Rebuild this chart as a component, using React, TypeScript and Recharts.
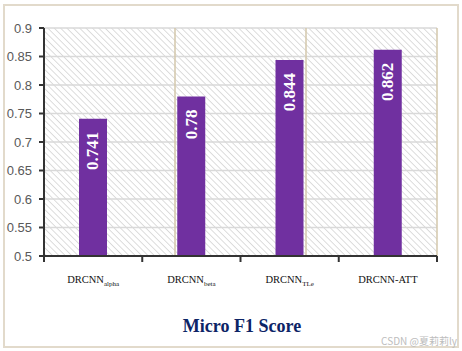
import { BarChart, Bar, XAxis, YAxis, CartesianGrid, ReferenceLine, LabelList } from 'recharts';

const models = ['DRCNN|alpha', 'DRCNN|beta', 'DRCNN|TLe', 'DRCNN-ATT'];
const microF1 = [0.741, 0.78, 0.844, 0.862];
const yTicks = [0.5, 0.55, 0.6, 0.65, 0.7, 0.75, 0.8, 0.85, 0.9];
const boundaries = [1, 2, 3, 4];

const data = models.map((m, i) => ({ model: m, score: microF1[i] }));

function ModelTick(props: any) {
  const { x, y, payload, index, width } = props;
  const half = payload?.offset || width / (models.length * 2);
  const [main, sub] = String(payload.value).split('|');
  const top = y - 8; // axis line position
  return (
    <g>
      {index === 0 && <line x1={x - half} x2={x - half} y1={top} y2={top + 6} stroke="#333" strokeWidth={2} />}
      <line x1={x + half} x2={x + half} y1={top} y2={top + 6} stroke="#333" strokeWidth={2} />
      <text x={x} y={y + 19} textAnchor="middle" fontFamily="'Liberation Serif', serif" fontSize={10.5} fill="#111">
        <tspan>{main}</tspan>
        {sub && <tspan dy={3} fontSize={7}>{sub}</tspan>}
      </text>
    </g>
  );
}

function ValueLabel({ x, y, width, value }: { x: number; y: number; width: number; value: number }) {
  const cx = x + width / 2;
  const ty = y + 13;
  return (
    <text
      x={cx} y={ty}
      transform={`rotate(-90 ${cx} ${ty})`}
      textAnchor="end"
      dominantBaseline="central"
      fill="#fff"
      fontFamily="'Liberation Serif', serif"
      fontWeight={700}
      fontSize={17}
    >
      {String(value)}
    </text>
  );
}

export default function App() {
  return (
    <div style={{ position: 'absolute', left: 0, top: 0, width: 462, height: 351, background: '#fff', overflow: 'hidden' }}>
      <svg width={0} height={0} style={{ position: 'absolute' }}>
        <defs>
          <pattern id="hatch" width={4.5} height={4.5} patternUnits="userSpaceOnUse" patternTransform="rotate(-45)">
            <rect width={4.5} height={4.5} fill="#fff" />
            <line x1={0} y1={0} x2={0} y2={4.5} stroke="#d4d4d4" strokeWidth={1.6} />
          </pattern>
        </defs>
      </svg>
      <div style={{ position: 'absolute', left: 3, top: 4, width: 452, height: 340, border: '2px solid #e2dacb' }} />
      <BarChart width={462} height={351} data={data} margin={{ top: 28, right: 25, left: 0, bottom: 0 }}>
        <CartesianGrid vertical={false} stroke="#d9d9d9" strokeWidth={1.5} fill="url(#hatch)" />
        <XAxis xAxisId="num" type="number" domain={[0, 4]} hide />
        <XAxis
          xAxisId="cat"
          dataKey="model"
          height={95}
          axisLine={{ stroke: '#333', strokeWidth: 2 }}
          tickLine={false}
          tickSize={0}
          tickMargin={8}
          interval={0}
          tick={ModelTick}
        />
        <YAxis
          domain={[0.5, 0.9]}
          ticks={yTicks}
          width={44}
          interval={0}
          tickFormatter={(v: number) => String(+v.toFixed(2))}
          tick={{ fill: '#595959', fontSize: 13, fontFamily: "'Liberation Sans', sans-serif" }}
          axisLine={{ stroke: '#333', strokeWidth: 2 }}
          tickLine={{ stroke: '#333', strokeWidth: 2 }}
          tickSize={5}
          tickMargin={7}
        />
        {boundaries.map((b) => (
          <ReferenceLine key={b} xAxisId="num" x={b} stroke="#d3c7ab" strokeWidth={1.5} />
        ))}
        <Bar xAxisId="cat" dataKey="score" fill="#7030a0" barSize={28} isAnimationActive={false}>
          <LabelList dataKey="score" content={ValueLabel as any} />
        </Bar>
      </BarChart>
      <div style={{ position: 'absolute', left: 0, width: 484, top: 316, textAlign: 'center', fontFamily: "'Liberation Serif', serif", fontWeight: 700, fontSize: 18, color: '#0c2466' }}>
        Micro F1 Score
      </div>
      <div style={{ position: 'absolute', right: 5, top: 333, whiteSpace: 'nowrap', fontFamily: "'Noto Sans CJK SC', sans-serif", fontSize: 10, color: '#bdbdbd' }}>
        CSDN @夏莉莉ly
      </div>
    </div>
  );
}
